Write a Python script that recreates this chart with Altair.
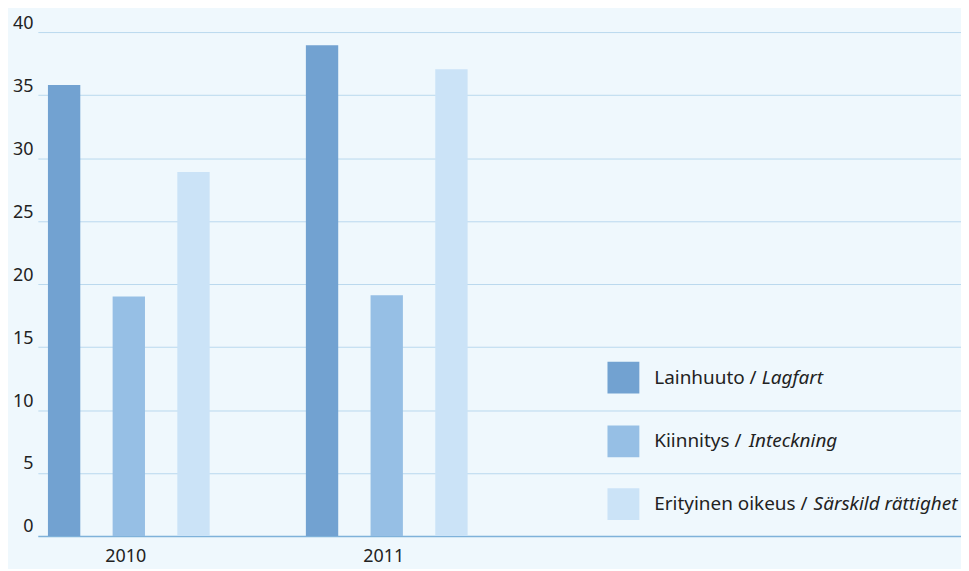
import altair as alt
import pandas as pd

years = ["2010", "2011"]
series_fi = ["Lainhuuto", "Kiinnitys", "Erityinen oikeus"]
series_sv = ["Lagfart", "Inteckning", "Särskild rättighet"]
values_2010 = [35.8, 19.0, 28.9]
values_2011 = [38.95, 19.1, 37.05]
colors = ["#72a2d1", "#96bfe5", "#cbe3f7"]
y_ticks = [0, 5, 10, 15, 20, 25, 30, 35, 40]

rows = []
for y, vals in zip(years, [values_2010, values_2011]):
    for s, v in zip(series_fi, vals):
        rows.append({"year": y, "series": s, "value": v})
df = pd.DataFrame(rows)

leg_df = pd.DataFrame({"fi": [f + " /" for f in series_fi], "sv": series_sv,
                       "series": series_fi, "k": [0, 1, 2]})

FONT = "Noto Sans"
W, H = 927, 506

bars = alt.Chart(df).mark_bar().encode(
    x=alt.X("year:N", title=None,
            scale=alt.Scale(domain=years, paddingInner=0.373, paddingOuter=0.976, align=0.02),
            axis=alt.Axis(labelAngle=0, ticks=False, labelPadding=12, labelFontSize=18,
                          labelColor="#222", labelFont=FONT, domainColor="#7fb2da",
                          domainWidth=1.5, grid=False, labelOffset=-3)),
    xOffset=alt.XOffset("series:N", scale=alt.Scale(domain=series_fi, paddingInner=0.5, paddingOuter=0)),
    y=alt.Y("value:Q", title=None,
            scale=alt.Scale(domain=[0, 40], nice=False),
            axis=alt.Axis(values=y_ticks, ticks=False, domain=False, labelPadding=5,
                          labelFontSize=18, labelColor="#222", labelFont=FONT,
                          labelBaseline="alphabetic", labelOffset=-4,
                          gridColor="#b9d9ee", gridWidth=1)),
    color=alt.Color("series:N", scale=alt.Scale(domain=series_fi, range=colors), legend=None),
)

layers = [bars]
ys = [347, 411, 474]
fi_x = 619
sv_x = [727, 714, 779]
for i in range(3):
    base = alt.Chart(leg_df).transform_filter(alt.datum.k == i)
    layers.append(base.mark_square(size=1024, opacity=1).encode(
        x=alt.value(588), y=alt.value(ys[i]),
        color=alt.Color("series:N", scale=alt.Scale(domain=series_fi, range=colors), legend=None)))
    layers.append(base.mark_text(align="left", baseline="middle", fontSize=19, font=FONT,
                                 color="#222").encode(
        x=alt.value(fi_x), y=alt.value(ys[i]), text="fi:N"))
    layers.append(base.mark_text(align="left", baseline="middle", fontSize=19, font=FONT,
                                 fontStyle="italic", color="#222").encode(
        x=alt.value(sv_x[i]), y=alt.value(ys[i]), text="sv:N"))

chart = alt.layer(*layers).properties(
    width=W, height=H,
    autosize=alt.AutoSizeParams(type="none"),
    padding={"left": 30, "top": 23, "right": 0, "bottom": 32},
    background="#eff8fd",
).configure_view(stroke=None)

chart.save("out.html", embed_options={"renderer": "svg", "actions": False})
